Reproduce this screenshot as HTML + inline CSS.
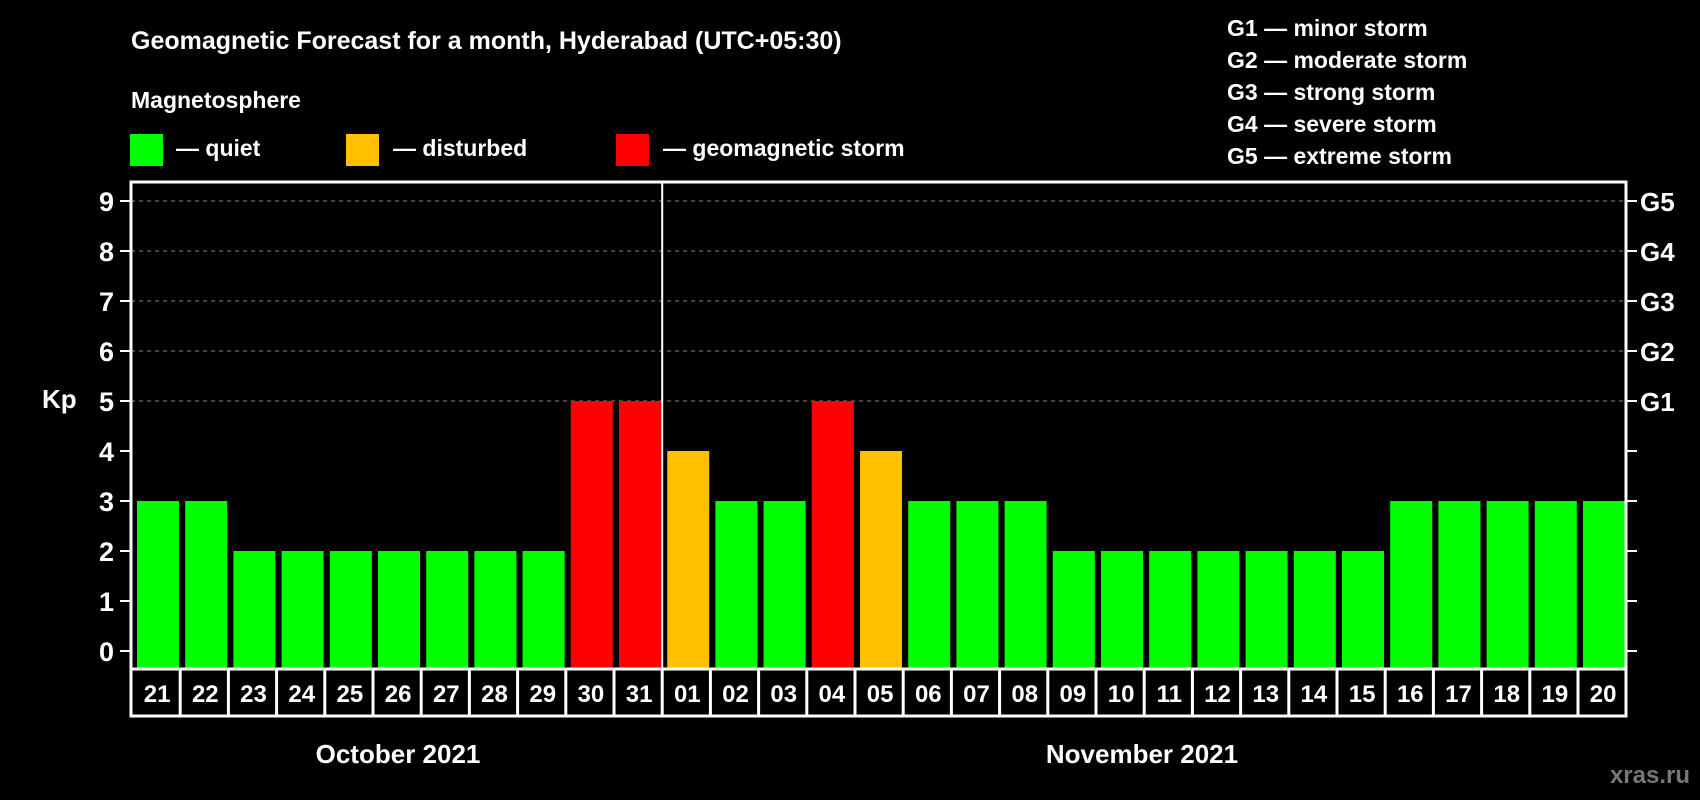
<!DOCTYPE html>
<html><head><meta charset="utf-8"><style>
html,body{margin:0;padding:0;background:#000;width:1700px;height:800px;overflow:hidden}
text{font-family:"Liberation Sans",sans-serif;font-weight:bold;fill:#fff}
</style></head><body>
<svg id="chart" width="1700" height="800" viewBox="0 0 1700 800" xmlns="http://www.w3.org/2000/svg">
<rect width="1700" height="800" fill="#000"/>
<text x="131" y="49" font-size="25">Geomagnetic Forecast for a month, Hyderabad (UTC+05:30)</text>
<text x="131" y="108" font-size="23">Magnetosphere</text>
<g><rect x="130" y="134" width="33" height="32" fill="#00ff00"/><text x="176" y="156" font-size="23">— quiet</text></g>
<g><rect x="346" y="134" width="33" height="32" fill="#ffc000"/><text x="393" y="156" font-size="23">— disturbed</text></g>
<g><rect x="616" y="134" width="33" height="32" fill="#ff0000"/><text x="663" y="156" font-size="23">— geomagnetic storm</text></g>
<g font-size="23">
<text x="1227" y="36">G1 — minor storm</text>
<text x="1227" y="68">G2 — moderate storm</text>
<text x="1227" y="100">G3 — strong storm</text>
<text x="1227" y="132">G4 — severe storm</text>
<text x="1227" y="164">G5 — extreme storm</text>
</g>
<text x="42" y="408" font-size="26">Kp</text>
<g id="grid"></g>
<g id="bars"></g>
<g id="axes"></g>
<text x="398" y="763" font-size="26" text-anchor="middle">October 2021</text>
<text x="1142" y="763" font-size="26" text-anchor="middle">November 2021</text>
<text x="1690" y="783" font-size="24" text-anchor="end" style="fill:#777">xras.ru</text>
</svg>
<script>
const days = ["21","22","23","24","25","26","27","28","29","30","31","01","02","03","04","05","06","07","08","09","10","11","12","13","14","15","16","17","18","19","20"];
const kpValues = [3,3,2,2,2,2,2,2,2,5,5,4,3,3,5,4,3,3,3,2,2,2,2,2,2,2,3,3,3,3,3];
const yTicks = [0,1,2,3,4,5,6,7,8,9];
const gLabels = ["G1","G2","G3","G4","G5"];
const NS="http://www.w3.org/2000/svg";
const X0=132, BAND=48.2, BW=42, LEFT=131, RIGHT=1626, TOP=182, BOT=669, CELLB=716;
const yS = v => 651 - v*50;
const xS = i => X0 + i*BAND;
function mk(tag, attrs, parent){const e=document.createElementNS(NS,tag);for(const k in attrs)e.setAttribute(k,attrs[k]);parent.appendChild(e);return e;}
const grid=document.getElementById('grid'), bars=document.getElementById('bars'), axes=document.getElementById('axes');
yTicks.forEach(v=>{
  if(v>=5){const l=mk('line',{x1:LEFT,x2:RIGHT,y1:yS(v),y2:yS(v),stroke:'#888','stroke-dasharray':'4 4','stroke-width':1},grid);
  
  }
  const t=mk('line',{x1:LEFT-11,x2:LEFT,y1:yS(v),y2:yS(v),stroke:'#fff','stroke-width':2},axes);
  
  
  const t2=mk('line',{x1:RIGHT,x2:RIGHT+11,y1:yS(v),y2:yS(v),stroke:'#fff','stroke-width':2},axes);
  
  
  const lb=mk('text',{x:LEFT-17,y:yS(v)+10,'font-size':27,'text-anchor':'end'},axes);lb.textContent=v;
  
  
});
gLabels.forEach((g,i)=>{
  const lb=mk('text',{x:RIGHT+14,y:yS(5+i)+10,'font-size':26},axes);lb.textContent=g;
  
  
});
kpValues.forEach((v,i)=>{
  const c = v>=5?'#ff0000':(v>=4?'#ffc000':'#00ff00');
  const r=mk('rect',{x:xS(i)+5,y:yS(v),width:BW,height:BOT-yS(v),fill:c},bars);
  
  
  if(i>0){const d=mk('line',{x1:xS(i),x2:xS(i),y1:BOT,y2:CELLB,stroke:'#fff','stroke-width':3},axes);
  
  }
  const t=mk('text',{x:xS(i)+BAND/2+1,y:702,'font-size':24,'text-anchor':'middle'},axes);t.textContent=days[i];
  
  
});
const frame=mk('path',{d:`M${LEFT} ${TOP}H${RIGHT}V${CELLB}H${LEFT}Z M${LEFT} ${BOT}H${RIGHT}`,fill:'none',stroke:'#fff','stroke-width':3},axes);


const mx=xS(11);
const ml=mk('line',{x1:mx,x2:mx,y1:TOP,y2:BOT,stroke:'#fff','stroke-width':2},axes);


</script>
</body></html>
